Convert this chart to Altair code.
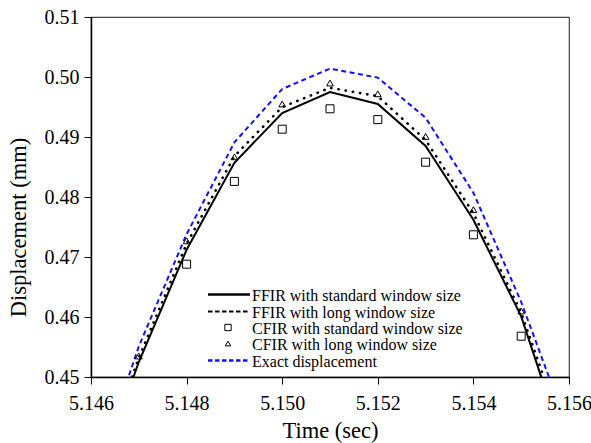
import altair as alt
import pandas as pd

# ---- data ----
time = [5.146, 5.147, 5.148, 5.149, 5.150, 5.151, 5.152, 5.153, 5.154, 5.155, 5.156]
ffir_std = [0.4300, 0.4525, 0.4712, 0.4857, 0.4940, 0.4975, 0.4955, 0.4885, 0.4762, 0.4601, 0.4360]
ffir_long = [0.4305, 0.4532, 0.4722, 0.4868, 0.4950, 0.4982, 0.4968, 0.4895, 0.4773, 0.4607, 0.4380]
exact = [0.4315, 0.4551, 0.4738, 0.4891, 0.4980, 0.5014, 0.4999, 0.4932, 0.4807, 0.4625, 0.4410]

cfir_std_t = [5.148, 5.149, 5.150, 5.151, 5.152, 5.153, 5.154, 5.155]
cfir_std = [0.4688, 0.4826, 0.4913, 0.4947, 0.4929, 0.4858, 0.4737, 0.4568]
cfir_long_t = [5.147, 5.148, 5.149, 5.150, 5.151, 5.152, 5.153, 5.154, 5.155]
cfir_long = [0.4535, 0.4727, 0.4867, 0.4955, 0.4990, 0.4972, 0.4901, 0.4779, 0.4610]

x_ticks = [5.146, 5.148, 5.150, 5.152, 5.154, 5.156]
y_ticks = [0.45, 0.46, 0.47, 0.48, 0.49, 0.50, 0.51]

legend_labels = [
    "FFIR with standard window size",
    "FFIR with long window size",
    "CFIR with standard window size",
    "CFIR with long window size",
    "Exact displacement",
]

FONT = "Liberation Serif"
W, H = 478, 360

xs = alt.Scale(domain=[5.146, 5.156], nice=False, zero=False)
ys = alt.Scale(domain=[0.45, 0.51], nice=False, zero=False)

xax = alt.Axis(values=x_ticks, format=".3f", title="Time (sec)", grid=False,
               labelPadding=9, titleY=60, titleBaseline="alphabetic")
yax = alt.Axis(values=y_ticks, format=".2f", title="Displacement (mm)", grid=False,
               labelPadding=5, titleX=-66, titleY=210, titleBaseline="alphabetic")

lines_df = pd.DataFrame({"t": time, "std": ffir_std, "long": ffir_long, "exact": exact})
sq_df = pd.DataFrame({"t": cfir_std_t, "v": cfir_std})
tr_df = pd.DataFrame({"t": cfir_long_t, "v": cfir_long})

base = alt.Chart(lines_df)
l_std = base.mark_line(clip=True, color="black", strokeWidth=2).encode(
    x=alt.X("t:Q", scale=xs, axis=xax), y=alt.Y("std:Q", scale=ys, axis=yax))
l_long = base.mark_line(clip=True, color="black", strokeWidth=2.6,
                        strokeDash=[0.3, 7], strokeCap="round").encode(
    x=alt.X("t:Q", scale=xs), y=alt.Y("long:Q", scale=ys))
l_exact = base.mark_line(clip=True, color="#1010ff", strokeWidth=2,
                         strokeDash=[5, 3.5]).encode(
    x=alt.X("t:Q", scale=xs), y=alt.Y("exact:Q", scale=ys))
p_sq = alt.Chart(sq_df).mark_point(shape="square", filled=False, color="black",
                                    size=64, strokeWidth=1, opacity=1).encode(
    x=alt.X("t:Q", scale=xs), y=alt.Y("v:Q", scale=ys))
p_tr = alt.Chart(tr_df).mark_point(shape="triangle-up", filled=False, color="black",
                                    size=45, strokeWidth=1, opacity=1).encode(
    x=alt.X("t:Q", scale=xs), y=alt.Y("v:Q", scale=ys))

# ---- manual legend ----
row_y = [277.5, 294.5, 310.5, 326.5, 343.5]
styles = [
    dict(kind="line", color="black", dash=None, width=2.5),
    dict(kind="line", color="black", dash=[4.5, 2.5], width=2),
    dict(kind="point", shape="square", size=40),
    dict(kind="point", shape="triangle-up", size=30),
    dict(kind="line", color="#1010ff", dash=[4.5, 2.5], width=2.5),
]
leg_layers = []
for lab, yy, st in zip(legend_labels, row_y, styles):
    d = pd.DataFrame({"label": [lab]})
    c = alt.Chart(d)
    if st["kind"] == "line":
        kw = dict(color=st["color"], strokeWidth=st["width"])
        if st["dash"]:
            kw["strokeDash"] = st["dash"]
        leg_layers.append(c.mark_rule(**kw).encode(
            x=alt.value(117), x2=alt.value(159), y=alt.value(yy)))
    else:
        leg_layers.append(c.mark_point(shape=st["shape"], filled=False, color="black",
                                       size=st["size"], strokeWidth=1, opacity=1).encode(
            x=alt.value(137), y=alt.value(yy)))
    leg_layers.append(c.mark_text(align="left", baseline="middle", font=FONT,
                                  fontSize=16, color="black").encode(
        x=alt.value(161), y=alt.value(yy + 1), text="label:N"))

chart = alt.layer(l_std, l_long, l_exact, p_sq, p_tr, *leg_layers).properties(
    width=W, height=H,
    background="white",
    autosize=alt.AutoSizeParams(type="none"),
    padding={"left": 91, "top": 17, "right": 22, "bottom": 66},
).configure_view(
    stroke="#444", strokeWidth=1.2
).configure_axis(
    labelFont=FONT, titleFont=FONT, labelFontSize=20, titleFontSize=22.5,
    labelColor="black", titleColor="black", titleFontWeight="normal",
    domainColor="black", domainWidth=1.5, tickColor="black", tickSize=7, tickWidth=1,
    labelFlush=False,
)

chart.save("out.html", embed_options={"renderer": "svg", "actions": False})
